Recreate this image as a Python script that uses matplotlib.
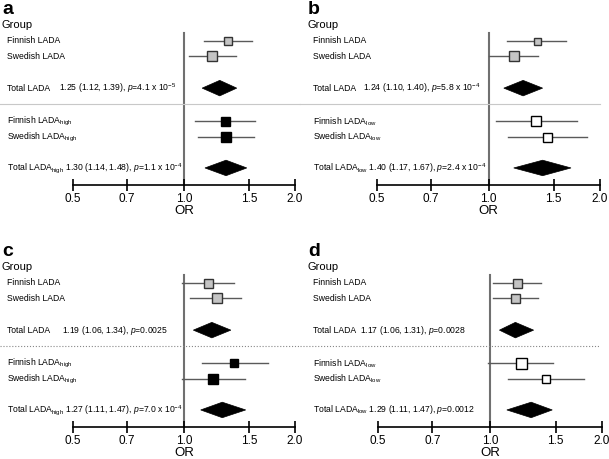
import matplotlib
matplotlib.use("Agg")
import matplotlib.pyplot as plt
import numpy as np
from matplotlib.transforms import blended_transform_factory
from matplotlib.patches import Polygon
from matplotlib.ticker import FixedLocator, NullLocator

plt.rcParams['font.family'] = ['Liberation Sans', 'DejaVu Sans']
plt.rcParams['mathtext.fontset'] = 'custom'
plt.rcParams['mathtext.rm'] = 'Liberation Sans'
plt.rcParams['mathtext.it'] = 'Liberation Sans:italic'
plt.rcParams['mathtext.bf'] = 'Liberation Sans:bold'

# ---------------- data ----------------
panel_letters = ['a', 'b', 'c', 'd']
subgroup = ['high', 'low', 'high', 'low']

# per panel: [Finnish LADA, Swedish LADA, Finnish sub, Swedish sub]
or_est = [[1.32, 1.19, 1.29, 1.30],
          [1.35, 1.17, 1.34, 1.44],
          [1.16, 1.23, 1.37, 1.20],
          [1.18, 1.17, 1.21, 1.41]]
or_lo = [[1.135, 1.03, 1.07, 1.09],
         [1.12, 1.00, 1.05, 1.13],
         [0.99, 1.04, 1.12, 0.99],
         [1.02, 1.02, 0.99, 1.12]]
or_hi = [[1.53, 1.38, 1.56, 1.55],
         [1.62, 1.36, 1.73, 1.85],
         [1.37, 1.43, 1.69, 1.46],
         [1.37, 1.35, 1.48, 1.79]]
marker_px = [[8, 10, 9, 10],
             [7, 10, 10, 9],
             [9, 10, 8, 10],
             [9, 9, 11, 8]]

# totals: [Total LADA, Total sub]
tot_est = [[1.25, 1.30], [1.24, 1.40], [1.19, 1.27], [1.17, 1.29]]
tot_lo = [[1.12, 1.14], [1.10, 1.17], [1.06, 1.11], [1.06, 1.11]]
tot_hi = [[1.39, 1.48], [1.40, 1.67], [1.34, 1.47], [1.31, 1.47]]
tot_p = [[r'$p$=4.1 x 10$^{-5}$', r'$p$=1.1 x 10$^{-4}$'],
         [r'$p$=5.8 x 10$^{-4}$', r'$p$=2.4 x 10$^{-4}$'],
         [r'$p$=0.0025', r'$p$=7.0 x 10$^{-4}$'],
         [r'$p$=0.0028', r'$p$=0.0012']]

xticks = [0.5, 0.7, 1.0, 1.5, 2.0]
xticklabels = ['0.5', '0.7', '1.0', '1.5', '2.0']

# ---------------- layout ----------------
W, H = 609, 459
fig = plt.figure(figsize=(W / 100, H / 100), dpi=100)

unit = 15.5                     # px per row unit
rows = [0, 1, 3.05, 5.2, 6.2, 8.2]
sep_y = 4.05
ybot = 9.3
ytop = -1.0

panel_left_px = [0, 306, 0, 306]
axis_left_px = [73, 377, 73, 378]
axis_w_px = [222, 223, 222, 224]
axis_y_px = [185, 185, 427, 427]
stat_off_px = [59, 57, 62, 54]
sep_style = ['-', '-', ':', ':']
sep_color = ['#c8c8c8', '#c8c8c8', '#888888', '#888888']

fill_colors = ['#c4c4c4', '#c4c4c4']
sub_fill = {'high': 'black', 'low': 'white'}

for k in range(4):
    ax = fig.add_axes([axis_left_px[k] / W, 1 - axis_y_px[k] / H,
                       axis_w_px[k] / W, (ybot - ytop) * unit / H])
    ax.set_xscale('log')
    ax.set_xlim(0.5, 2.0)
    ax.set_ylim(ybot, ytop)
    for s in ['top', 'right', 'left']:
        ax.spines[s].set_visible(False)
    ax.spines['bottom'].set_linewidth(1.2)
    ax.xaxis.set_major_locator(FixedLocator(xticks))
    ax.xaxis.set_minor_locator(NullLocator())
    ax.set_xticklabels(xticklabels, fontsize=8.5)
    ax.tick_params(axis='x', direction='inout', length=8, width=1.2, pad=1.5)
    ax.set_yticks([])
    ax.set_xlabel('OR', fontsize=9.5, labelpad=0.5)
    ax.patch.set_alpha(0)

    # reference line
    ax.plot([1.0, 1.0], [-0.5, ybot], color='#707070', lw=1.5, clip_on=False, zorder=1)

    # separator spanning panel width
    trans_fig_data = blended_transform_factory(fig.transFigure, ax.transData)
    x0 = panel_left_px[k] - (6 if k in (1, 3) else 0)
    ax.plot([x0 / W, (x0 + 300) / W], [sep_y, sep_y], transform=trans_fig_data,
            color=sep_color[k], ls=sep_style[k], lw=0.8, clip_on=False)

    # individual studies
    row_idx = [0, 1, 3, 4]
    for j in range(4):
        y = rows[row_idx[j]]
        ax.plot([or_lo[k][j], or_hi[k][j]], [y, y], color='#5a5a5a', lw=1.0, zorder=2)
        if j < 2:
            fc, ec = fill_colors[j], '#333333'
        else:
            fc, ec = sub_fill[subgroup[k]], 'black'
        ms = marker_px[k][j] * 0.72
        ax.plot([or_est[k][j]], [y], marker='s', ms=ms, mfc=fc, mec=ec, mew=1.0,
                ls='none', zorder=3)

    # diamonds
    for j, r in enumerate([2, 5]):
        y = rows[r]
        hh = 0.5
        poly = Polygon([[tot_lo[k][j], y], [tot_est[k][j], y - hh],
                        [tot_hi[k][j], y], [tot_est[k][j], y + hh]],
                       closed=True, fc='black', ec='black', lw=0.5, zorder=3)
        ax.add_patch(poly)

    # text labels
    lx = (panel_left_px[k] + 7) / W
    sx = (panel_left_px[k] + stat_off_px[k]) / W
    sub = subgroup[k]
    kw = dict(transform=trans_fig_data, fontsize=6.2, va='center', ha='left')
    ax.text(lx, rows[0], 'Finnish LADA', **kw)
    ax.text(lx, rows[1], 'Swedish LADA', **kw)
    ax.text(lx, rows[3], r'Finnish LADA$_{\mathrm{%s}}$' % sub, **kw)
    ax.text(lx, rows[4], r'Swedish LADA$_{\mathrm{%s}}$' % sub, **kw)
    ax.text(lx, rows[2], 'Total LADA', **kw)
    ax.text(sx, rows[2], '%.2f (%.2f, %.2f), %s' % (tot_est[k][0], tot_lo[k][0], tot_hi[k][0], tot_p[k][0]), **kw)
    ax.text(lx, rows[5], r'Total LADA$_{\mathrm{%s}}$ %.2f (%.2f, %.2f), %s' % (sub, tot_est[k][1], tot_lo[k][1], tot_hi[k][1], tot_p[k][1]), **kw)

    # Group header & panel letter
    gx = (panel_left_px[k] + 1) / W
    top_px = axis_y_px[k] - 185
    fig.text(gx, 1 - (top_px + 25) / H, 'Group', fontsize=8, va='center', ha='left')
    fig.text(gx + 1 / W, 1 - (top_px + 10) / H, panel_letters[k], fontsize=14,
             fontweight='bold', va='center', ha='left')

fig.savefig('out.png', dpi=100)
